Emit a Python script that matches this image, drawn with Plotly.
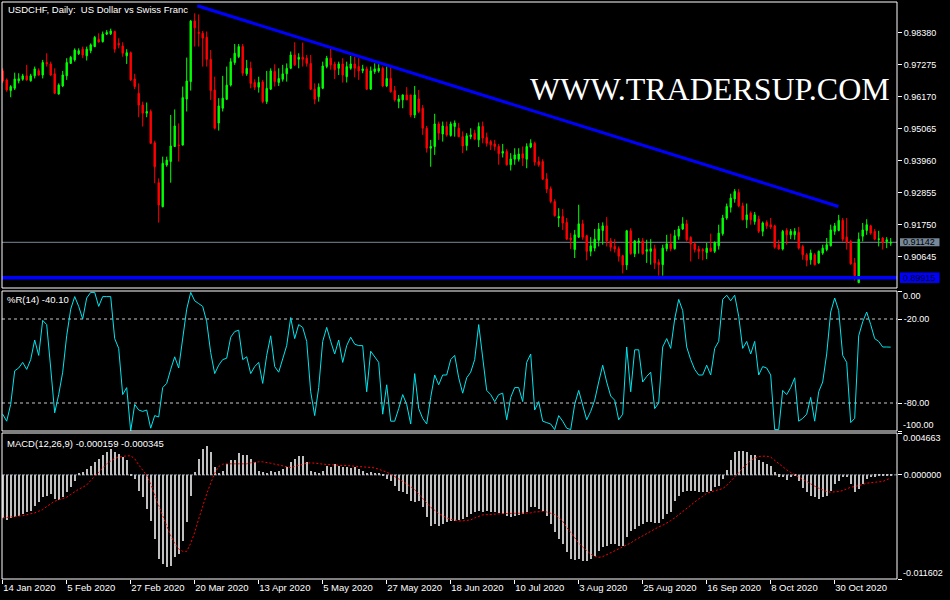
import plotly.graph_objects as go

# ---------------- data ----------------
bar_index = list(range(223))   # daily bars 14 Jan 2020 .. 19 Nov 2020

opens = [
0.9706,0.9675,0.9638,0.9646,0.9672,0.9677,0.9689,0.9672,0.9689,0.9707,
0.9692,0.9735,0.9730,0.9696,0.9626,0.9654,0.9689,0.9732,0.9744,0.9765,
0.9781,0.9758,0.9776,0.9790,0.9815,0.9807,0.9833,0.9834,0.9842,0.9801,
0.9792,0.9758,0.9769,0.9678,0.9629,0.9588,0.9560,0.9566,0.9458,0.9320,
0.9237,0.9381,0.9393,0.9445,0.9450,0.9450,0.9609,0.9669,0.9878,0.9839,
0.9836,0.9822,0.9746,0.9640,0.9526,0.9577,0.9608,0.9657,0.9735,0.9755,
0.9790,0.9696,0.9715,0.9666,0.9650,0.9668,0.9600,0.9643,0.9704,0.9666,
0.9677,0.9696,0.9715,0.9761,0.9746,0.9753,0.9750,0.9732,0.9643,0.9617,
0.9646,0.9721,0.9750,0.9730,0.9715,0.9730,0.9686,0.9715,0.9730,0.9721,
0.9707,0.9713,0.9643,0.9704,0.9706,0.9715,0.9654,0.9680,0.9638,0.9600,
0.9606,0.9623,0.9623,0.9554,0.9609,0.9577,0.9508,0.9439,0.9445,0.9523,
0.9488,0.9514,0.9483,0.9514,0.9508,0.9479,0.9448,0.9479,0.9491,0.9468,
0.9514,0.9476,0.9462,0.9454,0.9445,0.9422,0.9428,0.9382,0.9401,0.9401,
0.9420,0.9401,0.9443,0.9456,0.9393,0.9393,0.9333,0.9299,0.9255,0.9198,
0.9203,0.9183,0.9129,0.9089,0.9132,0.9178,0.9137,0.9083,0.9094,0.9121,
0.9155,0.9171,0.9119,0.9100,0.9092,0.9068,0.9036,0.9154,0.9075,0.9113,
0.9119,0.9083,0.9083,0.9092,0.9045,0.9037,0.9092,0.9109,0.9092,0.9135,
0.9160,0.9178,0.9131,0.9109,0.9091,0.9089,0.9079,0.9094,0.9083,0.9102,
0.9144,0.9198,0.9235,0.9264,0.9286,0.9240,0.9192,0.9215,0.9186,0.9194,
0.9152,0.9183,0.9175,0.9171,0.9106,0.9091,0.9155,0.9140,0.9140,0.9148,
0.9100,0.9071,0.9054,0.9071,0.9043,0.9077,0.9089,0.9102,0.9152,0.9155,
0.9190,0.9132,0.9117,0.9043,0.8975,0.9135,0.9155,0.9171,0.9152,0.9124,
0.9129,0.9117,0.9111]

highs = [
0.9715,0.9680,0.9657,0.9700,0.9698,0.9696,0.9727,0.9696,0.9721,0.9715,
0.9744,0.9767,0.9738,0.9715,0.9663,0.9706,0.9750,0.9758,0.9784,0.9784,
0.9790,0.9790,0.9801,0.9827,0.9836,0.9842,0.9847,0.9852,0.9845,0.9819,
0.9805,0.9781,0.9773,0.9696,0.9663,0.9600,0.9597,0.9573,0.9465,0.9335,
0.9410,0.9410,0.9554,0.9573,0.9525,0.9652,0.9752,0.9882,0.9905,0.9901,
0.9844,0.9842,0.9778,0.9686,0.9612,0.9689,0.9721,0.9750,0.9799,0.9799,
0.9799,0.9744,0.9738,0.9677,0.9686,0.9675,0.9706,0.9715,0.9729,0.9715,
0.9727,0.9732,0.9773,0.9805,0.9767,0.9804,0.9761,0.9761,0.9663,0.9663,
0.9738,0.9758,0.9784,0.9738,0.9738,0.9750,0.9738,0.9758,0.9755,0.9750,
0.9727,0.9721,0.9721,0.9732,0.9729,0.9721,0.9721,0.9721,0.9654,0.9623,
0.9625,0.9650,0.9623,0.9654,0.9640,0.9588,0.9516,0.9468,0.9558,0.9531,
0.9531,0.9531,0.9531,0.9535,0.9526,0.9497,0.9491,0.9508,0.9503,0.9528,
0.9531,0.9493,0.9468,0.9468,0.9454,0.9454,0.9436,0.9422,0.9439,0.9439,
0.9445,0.9456,0.9470,0.9462,0.9410,0.9401,0.9353,0.9307,0.9263,0.9232,
0.9229,0.9198,0.9146,0.9157,0.9244,0.9192,0.9140,0.9132,0.9160,0.9181,
0.9183,0.9201,0.9129,0.9125,0.9100,0.9071,0.9157,0.9163,0.9122,0.9129,
0.9129,0.9123,0.9125,0.9106,0.9056,0.9106,0.9140,0.9144,0.9157,0.9171,
0.9201,0.9192,0.9135,0.9114,0.9102,0.9094,0.9112,0.9144,0.9117,0.9175,
0.9209,0.9248,0.9282,0.9298,0.9298,0.9251,0.9248,0.9221,0.9219,0.9206,
0.9186,0.9190,0.9198,0.9175,0.9123,0.9157,0.9163,0.9160,0.9163,0.9167,
0.9106,0.9077,0.9089,0.9077,0.9086,0.9106,0.9129,0.9175,0.9181,0.9209,
0.9198,0.9198,0.9123,0.9060,0.9148,0.9181,0.9194,0.9175,0.9160,0.9154,
0.9132,0.9132,0.9129]

lows = [
0.9665,0.9634,0.9615,0.9640,0.9663,0.9672,0.9672,0.9669,0.9680,0.9689,
0.9680,0.9721,0.9689,0.9626,0.9624,0.9650,0.9675,0.9730,0.9738,0.9761,
0.9750,0.9742,0.9767,0.9788,0.9804,0.9804,0.9830,0.9830,0.9769,0.9784,
0.9755,0.9730,0.9671,0.9643,0.9546,0.9514,0.9546,0.9454,0.9318,0.9182,
0.9235,0.9375,0.9320,0.9445,0.9393,0.9448,0.9566,0.9638,0.9790,0.9790,
0.9721,0.9721,0.9606,0.9504,0.9500,0.9566,0.9606,0.9652,0.9727,0.9750,
0.9689,0.9689,0.9646,0.9640,0.9631,0.9594,0.9592,0.9640,0.9652,0.9654,
0.9669,0.9669,0.9712,0.9723,0.9715,0.9721,0.9721,0.9640,0.9591,0.9600,
0.9643,0.9715,0.9710,0.9678,0.9692,0.9666,0.9666,0.9710,0.9684,0.9675,
0.9698,0.9640,0.9640,0.9696,0.9700,0.9650,0.9650,0.9631,0.9600,0.9577,
0.9577,0.9606,0.9546,0.9543,0.9560,0.9485,0.9424,0.9375,0.9416,0.9468,
0.9462,0.9479,0.9479,0.9479,0.9477,0.9422,0.9431,0.9470,0.9470,0.9443,
0.9456,0.9445,0.9433,0.9431,0.9382,0.9407,0.9379,0.9362,0.9382,0.9393,
0.9378,0.9370,0.9439,0.9379,0.9375,0.9330,0.9284,0.9249,0.9203,0.9167,
0.9157,0.9123,0.9091,0.9060,0.9129,0.9123,0.9052,0.9066,0.9083,0.9100,
0.9106,0.9100,0.9083,0.9079,0.9048,0.9007,0.9019,0.9071,0.9063,0.9075,
0.9071,0.9043,0.9037,0.9022,0.8999,0.8999,0.9083,0.9083,0.9089,0.9123,
0.9157,0.9117,0.9048,0.9079,0.9056,0.9052,0.9056,0.9083,0.9077,0.9089,
0.9137,0.9192,0.9217,0.9251,0.9235,0.9190,0.9163,0.9175,0.9175,0.9146,
0.9135,0.9160,0.9160,0.9092,0.9089,0.9086,0.9106,0.9125,0.9123,0.9089,
0.9054,0.9031,0.9037,0.9034,0.9040,0.9071,0.9083,0.9100,0.9140,0.9152,
0.9117,0.9089,0.9037,0.8982,0.8973,0.9117,0.9140,0.9140,0.9121,0.9100,
0.9089,0.9094,0.9102]

closes = [
0.9671,0.9640,0.9652,0.9678,0.9679,0.9689,0.9675,0.9689,0.9713,0.9692,
0.9735,0.9731,0.9692,0.9629,0.9657,0.9692,0.9735,0.9753,0.9778,0.9776,
0.9761,0.9781,0.9796,0.9822,0.9806,0.9833,0.9839,0.9844,0.9781,0.9796,
0.9767,0.9769,0.9675,0.9652,0.9588,0.9560,0.9566,0.9456,0.9375,0.9243,
0.9387,0.9398,0.9447,0.9516,0.9448,0.9614,0.9671,0.9878,0.9855,0.9836,
0.9819,0.9746,0.9638,0.9508,0.9585,0.9612,0.9657,0.9738,0.9767,0.9790,
0.9698,0.9715,0.9663,0.9650,0.9666,0.9600,0.9646,0.9706,0.9669,0.9680,
0.9696,0.9715,0.9761,0.9727,0.9753,0.9746,0.9732,0.9643,0.9608,0.9650,
0.9723,0.9750,0.9727,0.9710,0.9730,0.9692,0.9721,0.9730,0.9715,0.9706,
0.9713,0.9643,0.9706,0.9713,0.9715,0.9654,0.9680,0.9634,0.9606,0.9609,
0.9623,0.9606,0.9554,0.9623,0.9566,0.9508,0.9439,0.9445,0.9523,0.9491,
0.9516,0.9485,0.9523,0.9526,0.9479,0.9447,0.9482,0.9485,0.9470,0.9514,
0.9474,0.9456,0.9451,0.9445,0.9420,0.9428,0.9382,0.9402,0.9416,0.9419,
0.9405,0.9445,0.9456,0.9391,0.9382,0.9332,0.9298,0.9255,0.9206,0.9203,
0.9181,0.9125,0.9123,0.9140,0.9178,0.9132,0.9083,0.9102,0.9125,0.9160,
0.9171,0.9119,0.9097,0.9091,0.9066,0.9036,0.9154,0.9075,0.9119,0.9119,
0.9075,0.9089,0.9092,0.9043,0.9037,0.9094,0.9109,0.9092,0.9137,0.9160,
0.9178,0.9123,0.9108,0.9089,0.9083,0.9085,0.9094,0.9083,0.9114,0.9146,
0.9198,0.9238,0.9267,0.9290,0.9240,0.9192,0.9209,0.9192,0.9209,0.9152,
0.9181,0.9171,0.9167,0.9097,0.9091,0.9152,0.9140,0.9152,0.9152,0.9094,
0.9071,0.9052,0.9077,0.9037,0.9083,0.9094,0.9106,0.9157,0.9171,0.9190,
0.9125,0.9114,0.9040,0.8999,0.9125,0.9157,0.9175,0.9146,0.9125,0.9126,
0.9114,0.9123,0.91142]

williams_r = [
-88,-93,-81,-57,-55,-51,-56,-49,-35,-46,
-21,-24,-55,-87,-74,-58,-32,-13,-4,-11,
-20,-5,-1,-1,-11,-4,-4,-4,-34,-41,
-74,-69,-100,-81,-85,-86,-85,-98,-89,-90,
-69,-66,-56,-47,-55,-34,-13,-1,-7,-9,
-11,-22,-44,-59,-53,-49,-48,-33,-29,-28,
-49,-47,-59,-54,-51,-66,-46,-32,-54,-58,
-49,-39,-19,-34,-24,-26,-36,-72,-89,-69,
-36,-26,-36,-45,-35,-51,-39,-33,-38,-39,
-39,-72,-43,-47,-51,-88,-67,-93,-93,-84,
-74,-81,-95,-59,-84,-91,-95,-76,-60,-67,
-60,-60,-49,-46,-62,-73,-62,-58,-49,-24,
-48,-71,-74,-79,-74,-73,-92,-76,-69,-69,
-79,-51,-45,-85,-79,-93,-94,-95,-99,-89,
-93,-98,-99,-81,-71,-81,-92,-86,-78,-65,
-53,-65,-75,-78,-92,-88,-40,-72,-42,-42,
-65,-61,-58,-84,-80,-40,-34,-41,-20,-6,
-14,-40,-49,-56,-60,-60,-53,-60,-41,-36,
-6,-3,-7,-3,-18,-41,-36,-45,-36,-60,
-54,-55,-60,-99,-99,-71,-74,-69,-62,-93,
-91,-88,-76,-93,-72,-65,-45,-15,-5,-14,
-46,-51,-94,-91,-32,-22,-15,-24,-34,-36,
-40,-40,-40.1]

# MACD main (histogram) and signal, in units of 1e-4
macd_main_e4 = [
-48.0,-50.2,-48.0,-46.5,-45.4,-43.5,-41.7,-39.8,-34.2,-30.5,
-24.9,-23.1,-21.2,-26.8,-27.9,-24.9,-19.3,-13.8,-6.3,1.1,
3.0,6.7,10.4,14.1,17.9,21.6,25.3,29.0,25.3,23.4,
19.7,16.0,-0.5,-4.5,-17.5,-24.9,-37.9,-51.0,-71.4,-93.7,
-99.3,-103.0,-101.2,-91.9,-88.2,-73.3,-52.8,-23.1,3.0,17.9,
29.0,31.6,25.3,8.6,1.1,4.8,12.3,16.0,16.0,24.2,
21.6,21.6,17.9,14.1,4.8,3.0,1.9,4.1,3.0,4.8,
6.7,8.6,14.1,17.9,20.5,20.5,14.1,4.8,3.0,1.1,
4.8,10.4,9.3,12.3,10.4,9.3,8.6,7.8,9.3,6.7,
4.8,1.9,3.0,1.9,1.1,-0.7,-4.5,-6.3,-11.9,-17.5,
-19.3,-21.2,-28.6,-30.5,-28.6,-36.1,-47.2,-56.5,-54.7,-56.5,
-54.7,-52.8,-51.0,-51.7,-50.2,-49.1,-47.2,-43.5,-41.7,-40.5,
-41.7,-40.5,-41.7,-41.7,-42.8,-43.5,-45.4,-46.5,-45.4,-44.3,
-43.5,-41.7,-36.1,-36.1,-37.9,-39.8,-45.4,-54.7,-64.0,-71.4,
-77.0,-86.3,-93.7,-94.9,-93.7,-95.6,-96.3,-93.7,-90.0,-84.4,
-80.7,-78.9,-77.0,-77.0,-78.9,-78.9,-69.6,-62.1,-60.3,-56.5,
-54.7,-52.8,-52.8,-53.9,-53.9,-49.1,-43.5,-41.7,-28.6,-23.1,
-19.3,-17.5,-17.5,-18.2,-19.3,-19.3,-19.3,-17.5,-13.8,-11.9,
-4.5,5.6,16.0,25.3,26.4,26.4,25.3,21.6,21.6,16.0,
14.1,12.3,10.4,3.0,-1.9,-2.6,-5.6,-2.6,-0.7,-6.3,
-14.5,-19.3,-23.1,-24.9,-26.8,-24.9,-23.1,-17.5,-10.0,-6.3,
-2.6,-2.6,-10.0,-19.3,-15.6,-10.0,-4.5,-2.6,-1.9,-0.7,
-0.7,-0.3,-1.59]

macd_signal_e4 = [
-48.0,-47.6,-47.2,-46.5,-46.1,-45.4,-44.3,-43.5,-42.4,-40.5,
-38.7,-35.3,-32.4,-29.4,-27.9,-26.4,-24.9,-21.9,-18.6,-16.0,
-13.8,-11.2,-6.3,-1.9,3.0,7.8,12.3,15.3,18.2,19.7,
20.8,21.2,21.2,17.9,11.2,5.6,-0.7,-10.0,-23.1,-34.2,
-45.4,-56.5,-67.7,-76.3,-82.6,-85.2,-85.2,-76.3,-64.0,-49.1,
-34.2,-21.2,-9.3,1.9,9.3,11.9,12.3,12.3,12.3,12.3,
12.3,12.3,13.4,14.1,14.5,14.5,14.1,13.0,11.9,10.8,
9.7,8.6,8.2,9.3,10.8,12.3,13.0,13.4,13.4,12.6,
11.9,11.5,11.5,11.2,10.8,10.4,10.4,10.0,10.0,9.7,
9.3,8.9,8.6,7.8,6.3,4.8,3.0,0.7,-1.5,-4.5,
-7.1,-10.0,-13.0,-16.4,-21.2,-26.8,-31.2,-36.1,-39.8,-42.8,
-45.4,-48.0,-49.5,-50.6,-51.3,-51.3,-51.0,-50.2,-48.0,-46.1,
-44.6,-44.3,-44.3,-43.9,-43.5,-43.2,-42.8,-42.8,-42.8,-42.8,
-42.8,-42.8,-42.4,-41.3,-40.9,-40.9,-41.3,-42.4,-44.3,-47.2,
-51.7,-58.4,-64.4,-70.3,-75.9,-80.4,-84.4,-88.2,-90.8,-91.9,
-91.1,-88.9,-87.0,-84.8,-82.6,-80.4,-78.1,-75.9,-72.9,-70.3,
-67.7,-65.1,-62.5,-60.3,-58.0,-56.2,-53.9,-51.0,-48.0,-44.3,
-40.9,-37.2,-33.5,-30.1,-26.8,-23.8,-20.5,-19.0,-17.9,-16.7,
-15.3,-11.9,-7.4,-2.6,2.6,7.4,12.3,16.0,18.6,20.5,
20.8,20.8,19.7,16.0,12.3,8.9,5.6,2.6,0.4,-2.2,
-4.8,-7.4,-10.4,-12.6,-14.9,-17.1,-18.6,-19.3,-19.3,-18.6,
-17.5,-15.6,-13.8,-13.0,-12.3,-10.8,-9.3,-8.6,-8.2,-7.8,
-7.4,-5.6,-3.45]

for arr in (opens, highs, lows, closes, williams_r, macd_main_e4, macd_signal_e4):
    assert len(arr) == 223, len(arr)

macd_main = [v * 1e-4 for v in macd_main_e4]
macd_signal = [v * 1e-4 for v in macd_signal_e4]

date_tick_pos = [0, 16, 32, 48, 64, 80, 96, 112, 128, 144, 160, 176, 192, 208]
date_tick_labels = ["14 Jan 2020", "5 Feb 2020", "27 Feb 2020", "20 Mar 2020", "13 Apr 2020",
                    "5 May 2020", "27 May 2020", "18 Jun 2020", "10 Jul 2020", "3 Aug 2020",
                    "25 Aug 2020", "16 Sep 2020", "8 Oct 2020", "30 Oct 2020"]
price_ticks = [0.98380, 0.97275, 0.96170, 0.95065, 0.93960, 0.92855, 0.91750, 0.90645]
wr_levels = [-20, -80]
macd_range = [-0.011602, 0.004663]
current_price = 0.91142
support_price = 0.89915
trend_start = (48.65, 0.99312)
trend_end = (208.95, 0.92379)

# ---------------- figure ----------------
FONT = "Liberation Sans, Arial, sans-serif"
W, H = 950, 600
ML, MR, MT, MB = 2, 53, 2, 21
PW = W - ML - MR
PH = H - MT - MB

def px_x(x):
    return (x - ML) / PW

def px_y(y):
    return (H - MB - y) / PH

fig = go.Figure()

fig.add_trace(go.Candlestick(
    x=bar_index, open=opens, high=highs, low=lows, close=closes,
    increasing=dict(line=dict(color="#00FF00", width=1), fillcolor="#00FF00"),
    decreasing=dict(line=dict(color="#FF0000", width=1), fillcolor="#FF0000"),
    xaxis="x", yaxis="y", showlegend=False, hoverinfo="skip"))

fig.add_trace(go.Scatter(x=bar_index, y=williams_r, mode="lines",
                         line=dict(color="#00E5EE", width=1),
                         xaxis="x", yaxis="y2", showlegend=False, hoverinfo="skip"))

fig.add_trace(go.Bar(x=bar_index, y=macd_main, width=0.28,
                     marker=dict(color="#C0C0C0", line=dict(width=0)),
                     xaxis="x", yaxis="y3", showlegend=False, hoverinfo="skip"))

fig.add_trace(go.Scatter(x=bar_index, y=macd_signal, mode="lines",
                         line=dict(color="#FF0000", width=1, dash="2px,2px"),
                         xaxis="x", yaxis="y3", showlegend=False, hoverinfo="skip"))

axis_font = dict(family=FONT, size=9, color="white")
common_y = dict(side="right", anchor="x", showgrid=False, zeroline=False, showline=False,
                ticks="outside", ticklen=4, tickcolor="white", tickwidth=1,
                tickfont=axis_font, fixedrange=True)

d_main = [px_y(288), 1.0]
d_wr = [px_y(431), px_y(291)]
d_macd = [0.0, px_y(433)]

fig.update_layout(
    width=W, height=H,
    margin=dict(l=ML, r=MR, t=MT, b=MB),
    paper_bgcolor="black", plot_bgcolor="black",
    showlegend=False, boxgap=0.5, bargap=0,
    xaxis=dict(domain=[0, 1], range=[-0.175, 223.575], anchor="y3",
               showgrid=False, zeroline=False, showline=False,
               tickvals=date_tick_pos, ticktext=date_tick_labels,
               ticks="outside", ticklen=4, tickcolor="white",
               ticklabelposition="outside right",
               tickfont=dict(family=FONT, size=9.5, color="white"),
               rangeslider=dict(visible=False), fixedrange=True),
    yaxis=dict(domain=d_main, range=[0.89564, 0.99440],
               tickvals=price_ticks, tickformat=".5f", **common_y),
    yaxis2=dict(domain=d_wr, range=[-100, 0],
                tickvals=[0, -20, -80, -100], ticktext=["", "-20.00", "-80.00", ""], **common_y),
    yaxis3=dict(domain=d_macd, range=macd_range,
                tickvals=[macd_range[1], 0, macd_range[0]], ticktext=["", "0.000000", ""], **common_y),
)

shapes = []
shapes.append(dict(type="line", xref="paper", yref="y", x0=0, x1=1, y0=current_price, y1=current_price,
                   line=dict(color="#778899", width=1), layer="below"))
for lv in wr_levels:
    shapes.append(dict(type="line", xref="paper", yref="y2", x0=0, x1=1, y0=lv, y1=lv,
                       line=dict(color="#C8C8C8", width=1, dash="3px,3px"), layer="below"))
shapes.append(dict(type="line", xref="paper", yref="y3", x0=0, x1=1, y0=0, y1=0,
                   line=dict(color="#8A9AAA", width=1, dash="3px,1px"), layer="below"))
shapes.append(dict(type="line", xref="x", yref="y", x0=trend_start[0], y0=trend_start[1],
                   x1=trend_end[0], y1=trend_end[1], line=dict(color="#0000FF", width=3), layer="above"))
shapes.append(dict(type="line", xref="paper", yref="y", x0=0, x1=1, y0=support_price, y1=support_price,
                   line=dict(color="#0000FF", width=3.5), layer="above"))
shapes.append(dict(type="rect", xref="paper", yref="y", x0=px_x(900), x1=px_x(939.5),
                   y0=current_price - 0.00140, y1=current_price + 0.00140,
                   fillcolor="#778899", line=dict(width=0), layer="above"))
shapes.append(dict(type="rect", xref="paper", yref="y", x0=px_x(900), x1=px_x(939.5),
                   y0=support_price - 0.00180, y1=support_price + 0.00180,
                   fillcolor="#0000FF", line=dict(width=0), layer="above"))
for ref in ["y domain", "y2 domain", "y3 domain"]:
    shapes.append(dict(type="rect", xref="paper", yref=ref, x0=0, x1=1, y0=0, y1=1,
                       line=dict(color="white", width=1), fillcolor="rgba(0,0,0,0)", layer="above"))
fig.update_layout(shapes=shapes)

ann = []
def label(text, x, y, size=9.5, color="white", xanchor="left", yanchor="middle", family=FONT,
          xref="paper", yref="paper"):
    ann.append(dict(text=text, x=x, y=y, xref=xref, yref=yref, xanchor=xanchor, yanchor=yanchor,
                    showarrow=False, borderpad=0, font=dict(family=family, size=size, color=color)))

label("USDCHF, Daily:\u00a0 US Dollar vs Swiss Franc", px_x(7), px_y(9.7))
label("%R(14) -40.10", px_x(6), px_y(299.7))
label("MACD(12,26,9) -0.000159 -0.000345", px_x(6), px_y(443))
label("0.00", px_x(902), px_y(295.7), size=9)
label("-100.00", px_x(902), px_y(425.3), size=9)
label("0.004663", px_x(902), px_y(438.3), size=9)
label("-0.011602", px_x(902), px_y(573.3), size=9)
label("0.91142", px_x(902), current_price, size=9, color="black", yref="y")
label("0.89915", px_x(902), support_price, size=9, color="black", yref="y")
label("WWW.TRADERSUP.COM", px_x(709.5), 0.96425, size=32, xanchor="center",
      family="Liberation Serif, Times New Roman, serif", yref="y")
fig.update_layout(annotations=ann)

fig.write_html("out.html", config={"displayModeBar": False},
               post_script="document.body.style.margin='0px';document.body.style.overflow='hidden';")
